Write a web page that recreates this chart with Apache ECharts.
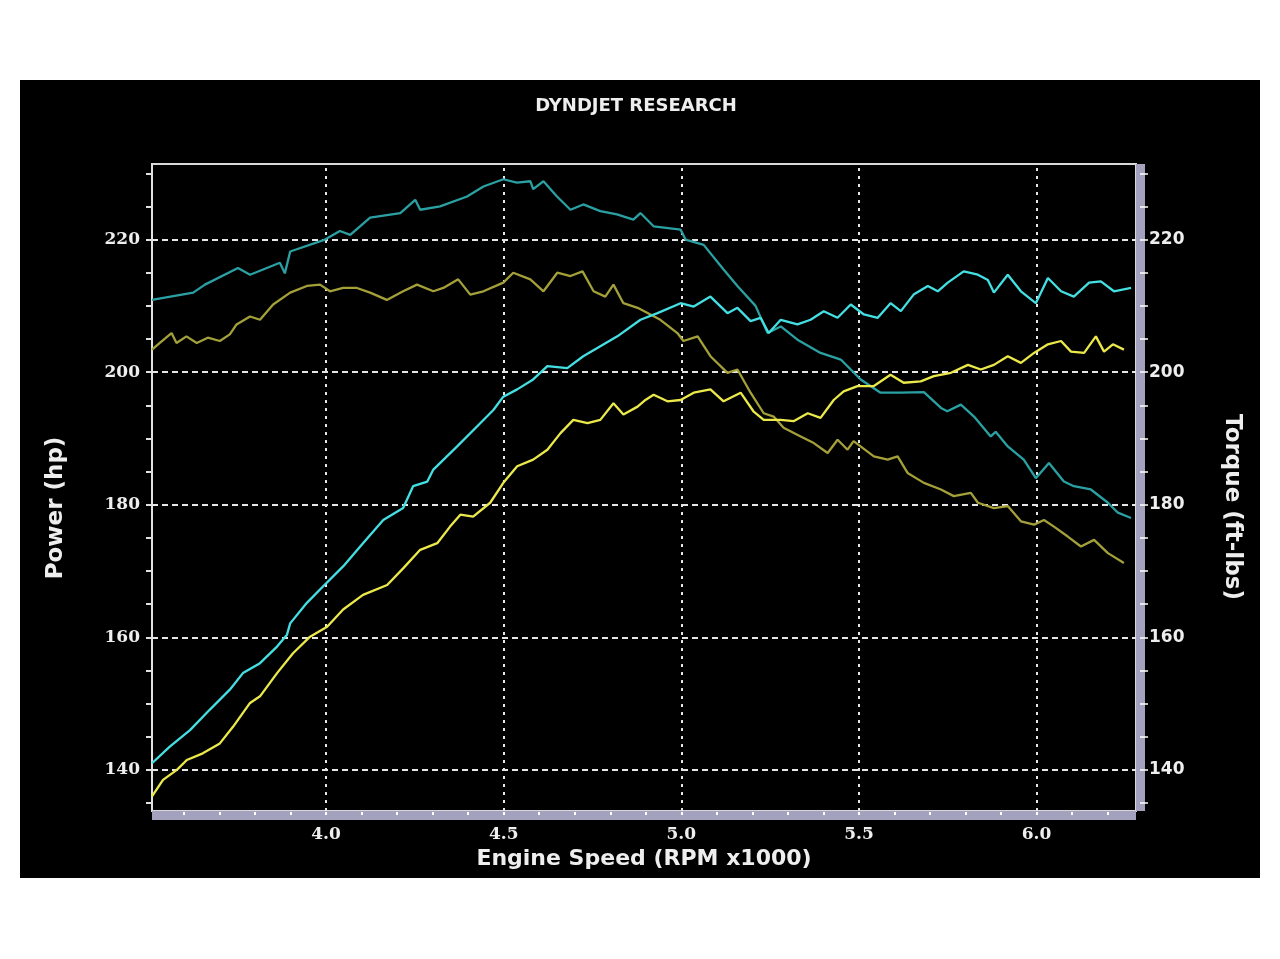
<!DOCTYPE html>
<html><head><meta charset="utf-8">
<script src="https://cdn.jsdelivr.net/npm/echarts@6/dist/echarts.min.js"></script>
<style>
html,body{margin:0;padding:0;background:#fff;width:1280px;height:959px;overflow:hidden}
#c{position:absolute;left:20px;top:80px;width:1240px;height:798px;background:#000}
</style>
</head><body><div id="c"></div>
<script>
// ---- axis / tick labels ----
const xLabelValues = [4.0, 4.5, 5.0, 5.5, 6.0];
const xTickValues = [3.6,3.7,3.8,3.9,4.0,4.1,4.2,4.3,4.4,4.5,4.6,4.7,4.8,4.9,5.0,5.1,5.2,5.3,5.4,5.5,5.6,5.7,5.8,5.9,6.0,6.1,6.2];
const yLabelValues = [140, 160, 180, 200, 220];
const yTickValues = [135,140,145,150,155,160,165,170,175,180,185,190,195,200,205,210,215,220,225,230];
const titleText = 'DYNDJET RESEARCH';
const xName = 'Engine Speed (RPM x1000)';
const yLeftName = 'Power (hp)';
const yRightName = 'Torque (ft-lbs)';

// ---- Torque run A (teal) ----
const torqueARpm = [3.51,3.626,3.659,3.752,3.786,3.870,3.884,3.899,3.997,4.039,4.068,4.124,4.209,4.251,4.265,4.321,4.397,4.443,4.499,4.537,4.575,4.583,4.612,4.650,4.688,4.724,4.772,4.819,4.865,4.885,4.922,4.998,5.012,5.063,5.119,5.158,5.209,5.243,5.280,5.327,5.392,5.449,5.505,5.561,5.618,5.683,5.731,5.749,5.787,5.824,5.871,5.885,5.919,5.964,5.998,6.035,6.077,6.105,6.153,6.201,6.229,6.266];
const torqueAVal = [210.9,212.0,213.2,215.7,214.7,216.5,214.9,218.2,220.0,221.3,220.7,223.3,224.0,226.0,224.5,225.0,226.5,228.0,229.1,228.6,228.8,227.6,228.8,226.5,224.5,225.3,224.3,223.8,223.0,224.0,222.0,221.5,220.0,219.2,215.5,213.0,210.0,205.9,206.9,204.9,202.9,201.9,198.9,196.9,196.9,197.0,194.6,194.1,195.1,193.3,190.3,191.0,188.8,186.8,184.0,186.3,183.5,182.8,182.3,180.3,178.8,178.0];

// ---- Torque run B (olive) ----
const torqueBRpm = [3.51,3.532,3.565,3.579,3.607,3.636,3.667,3.701,3.729,3.748,3.786,3.814,3.851,3.899,3.946,3.983,4.011,4.048,4.087,4.124,4.171,4.217,4.256,4.302,4.330,4.372,4.406,4.443,4.499,4.527,4.575,4.612,4.651,4.688,4.722,4.753,4.786,4.809,4.837,4.877,4.941,4.989,5.006,5.046,5.082,5.130,5.158,5.195,5.232,5.260,5.288,5.336,5.373,5.412,5.440,5.468,5.485,5.542,5.581,5.609,5.637,5.683,5.731,5.767,5.815,5.835,5.880,5.919,5.956,5.993,6.021,6.049,6.088,6.125,6.162,6.201,6.246];
const torqueBVal = [203.4,204.4,205.9,204.4,205.4,204.4,205.2,204.7,205.7,207.2,208.4,207.9,210.2,212.0,213.0,213.2,212.2,212.7,212.7,212.0,210.9,212.2,213.2,212.2,212.7,214.0,211.7,212.2,213.5,215.0,214.0,212.2,215.0,214.5,215.2,212.2,211.4,213.2,210.4,209.7,207.9,205.9,204.7,205.4,202.4,199.9,200.4,196.9,193.8,193.3,191.6,190.3,189.3,187.8,189.8,188.3,189.6,187.3,186.8,187.3,184.8,183.3,182.3,181.3,181.8,180.3,179.5,179.8,177.5,177.0,177.7,176.7,175.2,173.7,174.7,172.7,171.2];

// ---- Power run A (cyan) ----
const powerARpm = [3.51,3.56,3.617,3.673,3.729,3.766,3.814,3.862,3.890,3.899,3.946,3.992,4.048,4.104,4.161,4.217,4.245,4.285,4.302,4.369,4.434,4.471,4.499,4.538,4.583,4.623,4.679,4.724,4.772,4.820,4.885,4.933,4.998,5.035,5.082,5.130,5.158,5.195,5.223,5.246,5.280,5.327,5.364,5.401,5.440,5.477,5.514,5.553,5.589,5.618,5.654,5.694,5.722,5.750,5.795,5.835,5.863,5.880,5.919,5.956,5.998,6.032,6.069,6.105,6.148,6.181,6.218,6.266];
const powerAVal = [141.0,143.5,146.0,149.1,152.1,154.6,156.1,158.6,160.4,162.1,165.2,167.7,170.7,174.2,177.7,179.5,182.8,183.5,185.3,188.8,192.3,194.3,196.3,197.4,198.9,200.9,200.6,202.4,203.9,205.4,207.9,208.9,210.4,209.9,211.4,208.9,209.7,207.7,208.2,205.9,207.9,207.2,207.9,209.2,208.2,210.2,208.7,208.2,210.4,209.2,211.7,213.0,212.2,213.5,215.2,214.7,213.9,212.0,214.7,212.2,210.4,214.2,212.2,211.4,213.5,213.7,212.2,212.7];

// ---- Power run B (yellow) ----
const powerBRpm = [3.51,3.541,3.58,3.608,3.653,3.701,3.738,3.786,3.814,3.862,3.907,3.955,4.003,4.048,4.104,4.172,4.217,4.265,4.313,4.349,4.378,4.414,4.462,4.499,4.538,4.583,4.623,4.660,4.696,4.736,4.772,4.809,4.837,4.877,4.899,4.922,4.961,4.998,5.035,5.082,5.119,5.167,5.203,5.232,5.280,5.316,5.356,5.392,5.429,5.457,5.496,5.542,5.589,5.626,5.674,5.711,5.759,5.807,5.843,5.880,5.919,5.956,5.993,6.032,6.069,6.097,6.134,6.167,6.190,6.215,6.246];
const powerBVal = [136.0,138.5,140.0,141.5,142.5,144.0,146.5,150.1,151.1,154.6,157.6,160.1,161.6,164.2,166.4,167.9,170.4,173.2,174.2,176.7,178.5,178.2,180.3,183.3,185.8,186.8,188.3,190.8,192.8,192.3,192.8,195.3,193.6,194.8,195.8,196.6,195.6,195.8,196.9,197.4,195.6,196.9,194.1,192.8,192.8,192.6,193.8,193.1,195.8,197.1,197.9,197.9,199.6,198.4,198.6,199.4,199.9,201.1,200.4,201.1,202.4,201.4,202.9,204.2,204.7,203.1,202.9,205.4,203.1,204.2,203.4];

const pairs = (xs, ys) => xs.map((x, i) => [x, ys[i]]);
const X_MIN = 3.51, X_MAX = 6.28, Y_MIN = 133.8, Y_MAX = 231.4;
const txt = '#eeeeee';
const barColor = '#a3a1bd';
const labelFont = {color: txt, fontFamily: 'DejaVu Serif', fontWeight: 'bold', fontSize: 17};

const gridLines = [];
yLabelValues.forEach(v => gridLines.push({yAxis: v, lineStyle: {type: [6, 4]}}));
xLabelValues.forEach(v => gridLines.push({xAxis: v, lineStyle: {type: [3, 5]}}));

const chart = echarts.init(document.getElementById('c'), null, {renderer: 'canvas'});
chart.setOption({
  backgroundColor: '#000',
  animation: false,
  grid: {left: 132, top: 84, width: 984, height: 647, show: true, borderColor: '#d8d8d8', borderWidth: 2, backgroundColor: 'transparent'},
  graphic: [
    {type: 'text', x: 616, y: 26, style: {text: titleText, fill: txt, font: 'bold 18px "DejaVu Sans"', align: 'center', verticalAlign: 'middle'}},
    {type: 'text', x: 36, y: 428, rotation: Math.PI / 2, style: {text: yLeftName, fill: txt, font: 'bold 23px "DejaVu Sans"', align: 'center', verticalAlign: 'middle'}},
    {type: 'text', x: 1212, y: 427, rotation: -Math.PI / 2, style: {text: yRightName, fill: txt, font: 'bold 23px "DejaVu Sans"', align: 'center', verticalAlign: 'middle'}}
  ],
  xAxis: {
    type: 'value', min: X_MIN, max: X_MAX, position: 'bottom', offset: 4,
    name: xName, nameLocation: 'middle', nameGap: 31,
    nameTextStyle: {color: txt, fontFamily: 'DejaVu Sans', fontWeight: 'bold', fontSize: 22},
    axisLine: {show: true, lineStyle: {color: barColor, width: 9, cap: 'butt'}},
    axisTick: {show: true, inside: true, length: 3, customValues: xTickValues, lineStyle: {color: '#ffffff', width: 2}},
    axisLabel: Object.assign({customValues: xLabelValues, margin: 11, formatter: v => v.toFixed(1)}, labelFont),
    splitLine: {show: false}
  },
  yAxis: [
    {
      type: 'value', min: Y_MIN, max: Y_MAX, position: 'left',
      axisLine: {show: true, lineStyle: {color: '#e0e0e0', width: 2}},
      axisTick: {show: true, length: 6, customValues: yTickValues, lineStyle: {color: '#e0e0e0', width: 2}},
      axisLabel: Object.assign({customValues: yLabelValues, margin: 12}, labelFont),
      splitLine: {show: false}
    },
    {
      type: 'value', min: Y_MIN, max: Y_MAX, position: 'right', offset: 4,
      axisLine: {show: true, lineStyle: {color: barColor, width: 9, cap: 'butt'}},
      axisTick: {show: true, length: 8, customValues: yTickValues, lineStyle: {color: '#ffffff', width: 1.5}},
      axisLabel: Object.assign({customValues: yLabelValues, margin: 9}, labelFont, {fontFamily: 'DejaVu Sans'}),
      splitLine: {show: false}
    }
  ],
  series: [
    {type: 'line', name: 'Torque A', yAxisIndex: 1, data: pairs(torqueARpm, torqueAVal), showSymbol: false, z: 3,
     lineStyle: {color: '#2aa0a3', width: 2.3}, itemStyle: {color: '#2aa0a3'},
     markLine: {silent: true, z: 1, symbol: 'none', label: {show: false}, animation: false,
       lineStyle: {color: '#e6e6e6', width: 2}, data: gridLines}},
    {type: 'line', name: 'Torque B', yAxisIndex: 1, data: pairs(torqueBRpm, torqueBVal), showSymbol: false, z: 3,
     lineStyle: {color: '#a3a03a', width: 2.3}, itemStyle: {color: '#a3a03a'}},
    {type: 'line', name: 'Power A', yAxisIndex: 0, data: pairs(powerARpm, powerAVal), showSymbol: false, z: 4,
     lineStyle: {color: '#44dfe2', width: 2.3}, itemStyle: {color: '#44dfe2'}},
    {type: 'line', name: 'Power B', yAxisIndex: 0, data: pairs(powerBRpm, powerBVal), showSymbol: false, z: 4,
     lineStyle: {color: '#ebe84a', width: 2.3}, itemStyle: {color: '#ebe84a'}}
  ]
});
</script></body></html>
